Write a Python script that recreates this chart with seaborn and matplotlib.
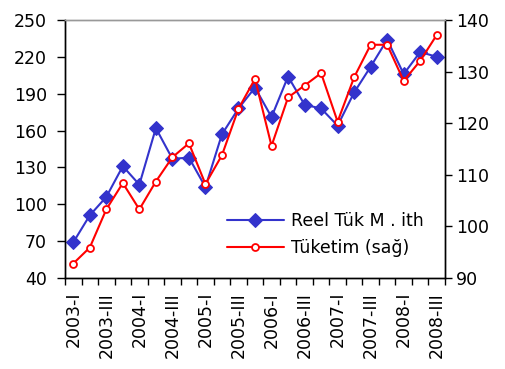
import numpy as np
import pandas as pd
import matplotlib
matplotlib.use("Agg")
import matplotlib.pyplot as plt
import seaborn as sns

# Quarterly periods 2003-I .. 2008-III
periods = [f"{y}-{q}" for y in range(2003, 2009) for q in ["I", "II", "III", "IV"]][:23]
tick_labels = periods[::2]

# Left axis: Reel Tük M. ith
reel_tuk = [69, 91, 106, 131, 116, 162, 137, 138, 114, 157, 178, 195,
            171, 204, 181, 178, 164, 191, 212, 234, 206, 224, 220]
# Right axis: Tüketim (sağ)
tuketim = [92.8, 95.9, 103.3, 108.4, 103.3, 108.7, 113.4, 116.1, 108.2, 113.8, 122.8, 128.6,
           115.6, 125.0, 127.3, 129.7, 120.3, 128.9, 135.2, 135.2, 128.2, 132.1, 137.1]

df = pd.DataFrame({"pos": np.arange(len(periods)), "period": periods,
                   "reel": reel_tuk, "tuketim": tuketim})

sns.set_style("white")
plt.rcParams["font.family"] = ["DejaVu Sans"]
plt.rcParams["text.color"] = "black"
plt.rcParams["xtick.color"] = "black"
plt.rcParams["ytick.color"] = "black"
plt.rcParams["axes.labelcolor"] = "black"

fig = plt.figure(figsize=(5.05, 3.69), dpi=100)
ax = fig.add_axes([0.1287, 0.2466, 0.7525, 0.6992])
ax2 = ax.twinx()

blue = "#3333CC"
red = "#FF0000"

sns.lineplot(data=df, x="pos", y="reel", ax=ax, color=blue, marker="D",
             markersize=7, markeredgecolor=blue, linewidth=1.5, label="Reel Tük M . ith",
             legend=False)
sns.lineplot(data=df, x="pos", y="tuketim", ax=ax2, color=red, marker="o",
             markersize=5, markerfacecolor="white", markeredgecolor=red,
             markeredgewidth=1.3, linewidth=1.5, label="Tüketim (sağ)", legend=False)

ax.set_xlim(-0.5, len(periods) - 0.5)
ax.set_ylim(40, 250)
ax.set_yticks(np.arange(40, 251, 30))
ax2.set_ylim(90, 140)
ax2.set_yticks(np.arange(90, 141, 10))

ax.set_xticks(np.arange(0, len(periods), 2))
ax.set_xticklabels(tick_labels, rotation=90)
ax.set_xticks(np.arange(-0.5, len(periods), 1), minor=True)
ax.tick_params(axis="x", which="major", bottom=True, length=0, pad=10, labelsize=12.5)
ax.tick_params(axis="x", which="minor", bottom=True, length=5, width=1,
               color="black", direction="out")
ax.tick_params(axis="y", left=True, length=6, width=1, color="black", direction="out",
               labelsize=12.5, pad=7)
ax2.tick_params(axis="y", right=True, length=5, width=1, color="black", direction="out",
                labelsize=12.5, pad=3)

ax.set_xlabel("")
ax.set_ylabel("")
ax2.set_ylabel("")

for a in (ax, ax2):
    for side in ["left", "right", "bottom"]:
        a.spines[side].set_color("black")
        a.spines[side].set_linewidth(1)
    a.spines["top"].set_color("#999999")
    a.spines["top"].set_linewidth(1)

h1, l1 = ax.get_legend_handles_labels()
h2, l2 = ax2.get_legend_handles_labels()
ax2.legend(h1 + h2, l1 + l2, loc="lower right", bbox_to_anchor=(0.985, 0.02),
           frameon=False, fontsize=12.5, handlelength=3.3, handletextpad=0.4,
           labelspacing=0.55)

fig.savefig("out.png", dpi=100)
